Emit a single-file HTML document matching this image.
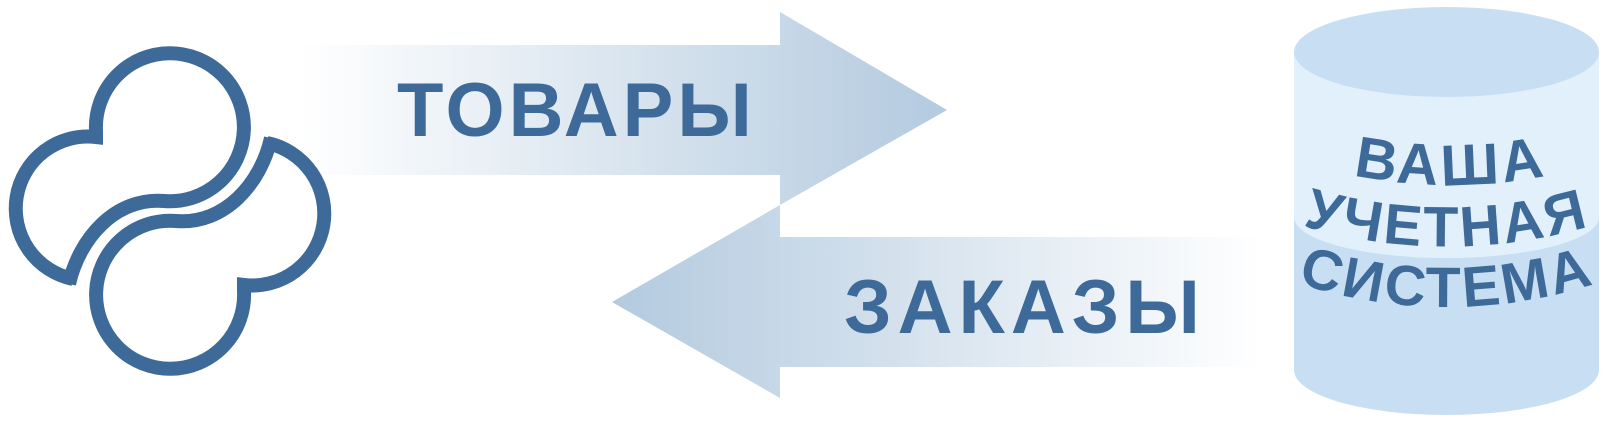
<!DOCTYPE html>
<html><head><meta charset="utf-8"><style>
html,body{margin:0;padding:0;background:#fff;}
svg{display:block}
text{font-family:"Liberation Sans",sans-serif;font-weight:bold;fill:#3d6a98}
</style></head><body>
<svg width="1605" height="425" viewBox="0 0 1605 425">
<defs>
<linearGradient id="g1" x1="300" y1="0" x2="947" y2="0" gradientUnits="userSpaceOnUse">
<stop offset="0" stop-color="#ffffff"/><stop offset="1" stop-color="#b3cadf"/></linearGradient>
<linearGradient id="g2" x1="612" y1="0" x2="1262" y2="0" gradientUnits="userSpaceOnUse">
<stop offset="0" stop-color="#b3cadf"/><stop offset="1" stop-color="#ffffff"/></linearGradient>
<path id="p1" d="M1301,162 Q1451,208 1601,162"/>
<path id="p2" d="M1297,224 Q1447,269 1597,224"/>
<path id="p3" d="M1297,283 Q1447,331 1597,283"/>
</defs>
<polygon points="300,45 780,45 780,12 947,110 780,205 780,175 300,175" fill="url(#g1)"/>
<polygon points="1262,237 780,237 780,205 612,302 780,398 780,367 1262,367" fill="url(#g2)"/>
<text x="397" y="136" font-size="76" letter-spacing="4">ТОВАРЫ</text>
<text x="844" y="333" font-size="76" letter-spacing="6">ЗАКАЗЫ</text>
<!-- cylinder -->
<path d="M1294,52 L1294,370 A152.5,45 0 0 0 1599,370 L1599,52 Z" fill="#c8dff3"/>
<path d="M1294,52 L1294,217 A152.5,41 0 0 0 1599,217 L1599,52 Z" fill="#e1f0fb"/>
<ellipse cx="1446.5" cy="52" rx="152.5" ry="45" fill="#c8dff3"/>
<text font-size="58" text-anchor="middle" letter-spacing="4"><textPath href="#p1" startOffset="50%">ВАША</textPath></text>
<text font-size="57" text-anchor="middle" letter-spacing="3"><textPath href="#p2" startOffset="50%">УЧЕТНАЯ</textPath></text>
<text font-size="57" text-anchor="middle" letter-spacing="3"><textPath href="#p3" startOffset="50%">СИСТЕМА</textPath></text>
<!-- logo -->
<g fill="none" stroke="#3d6a98" stroke-width="14" transform="translate(3,4)">
<path id="la" d="M70,275 A72,72 0 0 1 93,133 L93,127 A74,74 0 1 1 161,197 C112,193 76,235 66,280"/>
<use href="#la" transform="rotate(180 167 207)"/>
</g>
</svg>
</body></html>
